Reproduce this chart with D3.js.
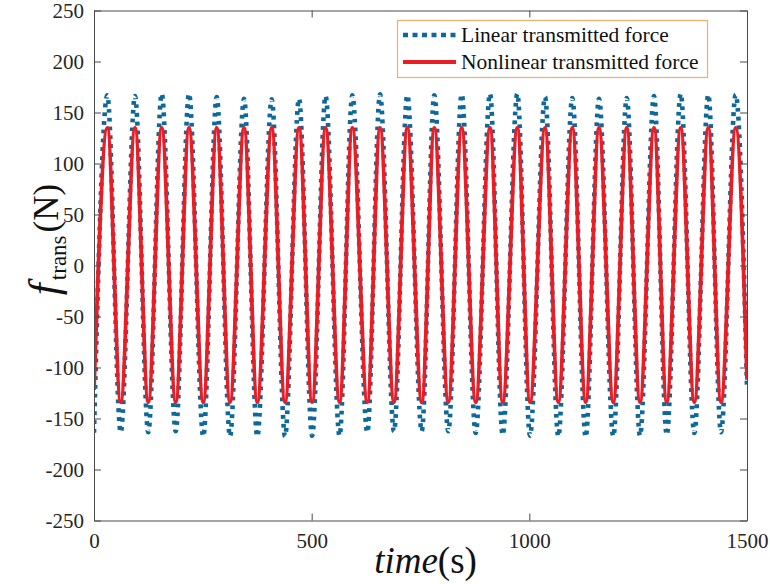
<!DOCTYPE html>
<html><head><meta charset="utf-8">
<script src="https://cdn.jsdelivr.net/npm/d3@7"></script>
<style>body{margin:0;background:#fff}svg{display:block}text{font-family:'Liberation Serif','Times New Roman',serif !important}</style>
</head><body>
<svg id="c" width="770" height="584"></svg>
<script>
// ---- data ----
const xTicks = [0, 500, 1000, 1500];
const yTicks = [-250, -200, -150, -100, -50, 0, 50, 100, 150, 200, 250];
const seriesNames = ["Linear transmitted force", "Nonlinear transmitted force"];
// time samples at start, alternating peaks/troughs, end
const time = [0, 30.6, 61.3, 94.2, 124.7, 155.5, 187.7, 218.2, 251, 281.9, 312.4, 344.6, 375.1, 408.2, 438.8,
  470.9, 501, 532, 564, 593.4, 627.8, 657, 689.1, 719.7, 752.8, 781.7, 813.9, 844.6, 876.8, 909.6, 938.8,
  972.4, 1001.5, 1036, 1066.6, 1098.7, 1129.5, 1160, 1192.9, 1223.7, 1254.2, 1286.4, 1315.6, 1347.7, 1379,
  1411.1, 1440.3, 1474, 1500];
const linearForce = [-164, 166.9, -163.5, 166.2, -163.5, 168.4, -162.5, 168.4, -167.5, 165.2, -167.5, 163.5,
  -167.5, 163, -167.5, 163.5, -166.9, 166.2, -166.9, 166.9, -163.5, 167.8, -162.5, 166.9, -162.5, 166.9,
  -162.5, 167.8, -164.2, 168.4, -165.9, 168.4, -166.9, 165.2, -167.5, 164.2, -168.1, 163.5, -167.5, 164.2,
  -166.9, 166.2, -165.9, 168.4, -164.2, 167.4, -163.5, 167.4, -119];
const nonlinearForce = [-122, 135, -134, 135, -134, 135, -134, 135, -134, 135, -134, 135, -134, 135, -134,
  135, -134, 135, -134, 135, -134, 135, -134, 135, -134, 135, -134, 135, -134, 135, -134, 135, -134, 135,
  -134, 135, -134, 135, -134, 135, -134, 135, -134, 135, -134, 135, -134, 135, -112];

// ---- layout ----
const L = 94, R = 747, T = 10.5, B = 520.5;
const blue = "#0e6898", red = "#ec1c24", axisCol = "#4a4a4a", textCol = "#262626";
const font = "'Liberation Serif','Times New Roman',serif";

const svg = d3.select("#c");
const x = d3.scaleLinear().domain([0, 1500]).range([L, R]);
const y = d3.scaleLinear().domain([-250, 250]).range([B, T]);

// lines
svg.append("clipPath").attr("id", "clp").append("rect")
  .attr("x", L).attr("y", T).attr("width", R - L).attr("height", B - T);
const line = vals => d3.line().x((d, i) => x(time[i])).y(d => y(d)).curve(d3.curveMonotoneX)(vals);
const g = svg.append("g").attr("clip-path", "url(#clp)");
g.append("path").attr("d", line(linearForce)).attr("fill", "none").attr("stroke", blue)
  .attr("stroke-width", 4.6).attr("stroke-dasharray", "3.8,5");
g.append("path").attr("d", line(nonlinearForce)).attr("fill", "none").attr("stroke", red)
  .attr("stroke-width", 3.8).attr("stroke-linejoin", "round");

// axes
const tl = 7;
const fmt = d => String(d);
const ax = (gen, tr) => svg.append("g").attr("transform", tr).attr("font-family", font).call(gen)
  .call(s => s.select(".domain").attr("stroke", axisCol))
  .call(s => s.selectAll(".tick line").attr("stroke", axisCol))
  .call(s => s.selectAll("text").attr("fill", textCol).style("font-size", "21px"));
ax(d3.axisBottom(x).tickValues(xTicks).tickSizeInner(-tl).tickSizeOuter(0).tickPadding(13).tickFormat(fmt), `translate(0,${B})`);
ax(d3.axisTop(x).tickValues(xTicks).tickSizeInner(-tl).tickSizeOuter(0).tickFormat(""), `translate(0,${T})`);
ax(d3.axisLeft(y).tickValues(yTicks).tickSizeInner(-tl).tickSizeOuter(0).tickPadding(10).tickFormat(fmt), `translate(${L},0)`);
ax(d3.axisRight(y).tickValues(yTicks).tickSizeInner(-tl).tickSizeOuter(0).tickFormat(""), `translate(${R},0)`);

// axis labels
const xl = svg.append("text").attr("x", (L + R) / 2 + 5).attr("y", 573).attr("text-anchor", "middle")
  .style("font-size", "37px").attr("fill", "#111");
xl.append("tspan").style("font-style", "italic").text("time");
xl.append("tspan").text("(s)");

const yl = svg.append("text").attr("transform", `translate(58,${(T + B) / 2 - 26}) rotate(-90)`)
  .attr("text-anchor", "middle").attr("fill", "#111");
yl.append("tspan").style("font-style", "italic").style("font-size", "43px").text("f");
yl.append("tspan").style("font-size", "23px").attr("dy", 8).attr("dx", 3).text("trans");
yl.append("tspan").style("font-size", "35px").attr("dy", -8).attr("dx", 3).text("(N)");

// legend
const lg = svg.append("g");
lg.append("rect").attr("x", 397.5).attr("y", 20.5).attr("width", 310).attr("height", 57)
  .attr("fill", "#fff").attr("stroke", "#efae6c").attr("stroke-width", 1.2);
const rows = [{ c: blue, dash: "5,4.5", w: 4.5 }, { c: red, dash: null, w: 3.8 }];
rows.forEach((r, i) => {
  const yy = 35 + i * 27;
  lg.append("line").attr("x1", 403).attr("x2", 456).attr("y1", yy).attr("y2", yy)
    .attr("stroke", r.c).attr("stroke-width", r.w).attr("stroke-dasharray", r.dash);
  lg.append("text").attr("x", 461).attr("y", yy + 7).text(seriesNames[i])
    .style("font-size", "21.5px").attr("fill", "#111");
});
</script>
</body></html>
